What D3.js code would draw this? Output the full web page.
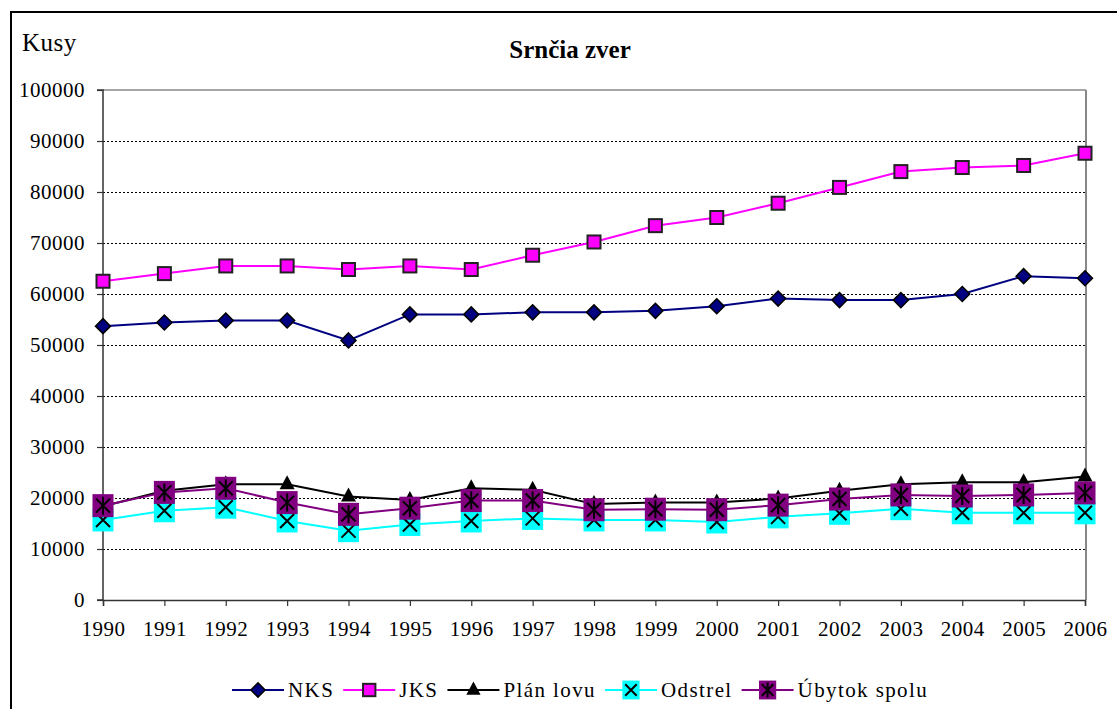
<!DOCTYPE html>
<html>
<head>
<meta charset="utf-8">
<script src="https://d3js.org/d3.v7.min.js"></script>
<style>
  body { margin: 0; background: #fff; }
  text { font-family: "Liberation Serif", "Times New Roman", serif; fill: #000; }
</style>
</head>
<body>
<div id="chart"></div>
<script>
// data
var years = [1990, 1991, 1992, 1993, 1994, 1995, 1996, 1997, 1998, 1999, 2000, 2001, 2002, 2003, 2004, 2005, 2006];
var nks   = [53700, 54400, 54800, 54800, 50900, 56000, 56000, 56400, 56400, 56700, 57600, 59100, 58800, 58800, 60000, 63500, 63100];
var jks   = [62500, 64000, 65500, 65500, 64800, 65500, 64800, 67600, 70200, 73400, 75000, 77800, 80900, 84000, 84800, 85200, 87600];
var plan  = [18400, 21400, 22700, 22700, 20300, 19600, 21900, 21600, 18800, 19100, 19100, 19900, 21400, 22700, 23100, 23100, 24200];
var odstrel = [15700, 17500, 18200, 15500, 13600, 14800, 15500, 16000, 15700, 15700, 15300, 16300, 17000, 17900, 17100, 17100, 17100];
var ubytok  = [18500, 21100, 21900, 19100, 16800, 18000, 19500, 19500, 17700, 17800, 17700, 18600, 19800, 20600, 20400, 20600, 21000];
var yTicks = [0, 10000, 20000, 30000, 40000, 50000, 60000, 70000, 80000, 90000, 100000];

var series = [
  { name: "NKS", values: nks, color: "#000080", marker: "diamond" },
  { name: "JKS", values: jks, color: "#ff00ff", marker: "square" },
  { name: "Plán lovu", values: plan, color: "#000000", marker: "triangle" },
  { name: "Odstrel", values: odstrel, color: "#00ffff", marker: "cross" },
  { name: "Úbytok spolu", values: ubytok, color: "#800080", marker: "star" }
];

var W = 1117, H = 709;
var m = [90, 32, 109, 103]; // top right bottom left
var w = W - m[1] - m[3],
    h = H - m[0] - m[2];

var x = d3.scaleLinear().domain([1990, 2006]).range([0, w]);
var y = d3.scaleLinear().domain([0, 100000]).range([h, 0]);

var svg = d3.select("#chart").append("svg")
  .attr("width", W)
  .attr("height", H);

// outer frame (runs off the right and bottom edge)
svg.append("rect")
  .attr("x", 11).attr("y", 12)
  .attr("width", 1200).attr("height", 800)
  .attr("fill", "none")
  .attr("stroke", "#000")
  .attr("stroke-width", 2);

svg.append("text")
  .attr("x", 22).attr("y", 51)
  .attr("font-size", 25)
  .attr("letter-spacing", "0.5px")
  .text("Kusy");

svg.append("text")
  .attr("x", 570).attr("y", 58)
  .attr("text-anchor", "middle")
  .attr("font-size", 25)
  .attr("font-weight", "bold")
  .text("Srnčia zver");

var main = svg.append("g")
  .attr("transform", "translate(" + m[3] + "," + m[0] + ")");

//////////////////////////////////////////////////////
// GRID + FRAME
//////////////////////////////////////////////////////
main.append("g")
  .selectAll("line")
  .data(yTicks.filter(function(d) { return d > 0 && d < 100000; }))
  .enter().append("line")
  .attr("x1", 0).attr("x2", w + 1)
  .attr("y1", function(d) { return Math.round(y(d)) + 0.5; })
  .attr("y2", function(d) { return Math.round(y(d)) + 0.5; })
  .attr("stroke", "#000")
  .attr("stroke-width", 1)
  .attr("stroke-dasharray", "2,2");

main.append("line")
  .attr("x1", 0).attr("x2", w + 1)
  .attr("y1", y(100000)).attr("y2", y(100000))
  .attr("stroke", "#888").attr("stroke-width", 1.5);

main.append("line")
  .attr("x1", w + 1).attr("x2", w + 1)
  .attr("y1", y(100000)).attr("y2", y(0))
  .attr("stroke", "#888").attr("stroke-width", 2);

//////////////////////////////////////////////////////
// AXES
//////////////////////////////////////////////////////
var yAxis = d3.axisLeft(y)
  .tickValues(yTicks)
  .tickSize(6)
  .tickPadding(12)
  .tickFormat(d3.format("d"));

var xAxis = d3.axisBottom(x)
  .tickValues(years)
  .tickSize(6)
  .tickPadding(15)
  .tickFormat(d3.format("d"));

var gY = main.append("g").call(yAxis);
var gX = main.append("g").attr("transform", "translate(0," + h + ")").call(xAxis);

[gY, gX].forEach(function(g) {
  g.select(".domain").attr("stroke", "#333").attr("stroke-width", 1.5);
  g.selectAll(".tick line").attr("stroke", "#333").attr("stroke-width", 1.2);
  g.selectAll(".tick text")
    .attr("font-size", 21)
    .attr("letter-spacing", "0.5px")
    .attr("fill", "#000");
});
gY.select(".domain").attr("d", "M-6," + h + "H0V0H-6");

//////////////////////////////////////////////////////
// MARKERS
//////////////////////////////////////////////////////
function drawMarker(g, type, s) {
  s = s || 1;
  if (type === "diamond") {
    g.append("path")
      .attr("d", "M0," + (-7.5 * s) + "L" + (7.5 * s) + ",0L0," + (7.5 * s) + "L" + (-7.5 * s) + ",0Z")
      .attr("fill", "#000080").attr("stroke", "#000").attr("stroke-width", 1.5);
  } else if (type === "square") {
    g.append("rect")
      .attr("x", -6.5 * s).attr("y", -6.5 * s)
      .attr("width", 13 * s).attr("height", 13 * s)
      .attr("fill", "#ff00ff").attr("stroke", "#222").attr("stroke-width", 2);
  } else if (type === "triangle") {
    g.append("path")
      .attr("d", "M0," + (-9 * s) + "L" + (7.5 * s) + "," + (5 * s) + "L" + (-7.5 * s) + "," + (5 * s) + "Z")
      .attr("fill", "#000");
  } else if (type === "cross" || type === "star") {
    g.append("rect")
      .attr("x", -10.5 * s).attr("y", -11.5 * s)
      .attr("width", 21 * s).attr("height", 23 * s)
      .attr("fill", type === "cross" ? "#00ffff" : "#800080");
    var a = 7 * s;
    g.append("path")
      .attr("d", "M" + (-a) + "," + (-a) + "L" + a + "," + a + "M" + a + "," + (-a) + "L" + (-a) + "," + a +
        (type === "star" ? "M0," + (-9 * s) + "V" + (9 * s) : ""))
      .attr("stroke", "#000").attr("stroke-width", 2).attr("fill", "none");
  }
}

//////////////////////////////////////////////////////
// SERIES
//////////////////////////////////////////////////////
var line = d3.line()
  .x(function(d, i) { return x(years[i]); })
  .y(function(d) { return y(d); });

series.forEach(function(s) {
  var g = main.append("g").attr("class", "series");
  g.append("path")
    .attr("d", line(s.values))
    .attr("fill", "none")
    .attr("stroke", s.color)
    .attr("stroke-width", 2);
  g.selectAll(".pt")
    .data(s.values)
    .enter().append("g")
    .attr("class", "pt")
    .attr("transform", function(d, i) { return "translate(" + x(years[i]) + "," + y(d) + ")"; })
    .each(function() { drawMarker(d3.select(this), s.marker); });
});

//////////////////////////////////////////////////////
// LEGEND
//////////////////////////////////////////////////////
var legend = svg.append("g").attr("transform", "translate(0,690)");
var lx = 232;
series.forEach(function(s) {
  var item = legend.append("g").attr("transform", "translate(" + lx + ",0)");
  item.append("line")
    .attr("x1", 0).attr("x2", 52)
    .attr("stroke", s.color).attr("stroke-width", 2);
  var mk = item.append("g").attr("transform", "translate(26,0)");
  drawMarker(mk, s.marker, (s.marker === "cross" || s.marker === "star") ? 0.82 : 0.95);
  var t = item.append("text")
    .attr("x", 56).attr("y", 7)
    .attr("font-size", 21)
    .attr("letter-spacing", "1.4px")
    .text(s.name);
  lx += 56 + t.node().getComputedTextLength() + 9;
});
</script>
</body>
</html>
